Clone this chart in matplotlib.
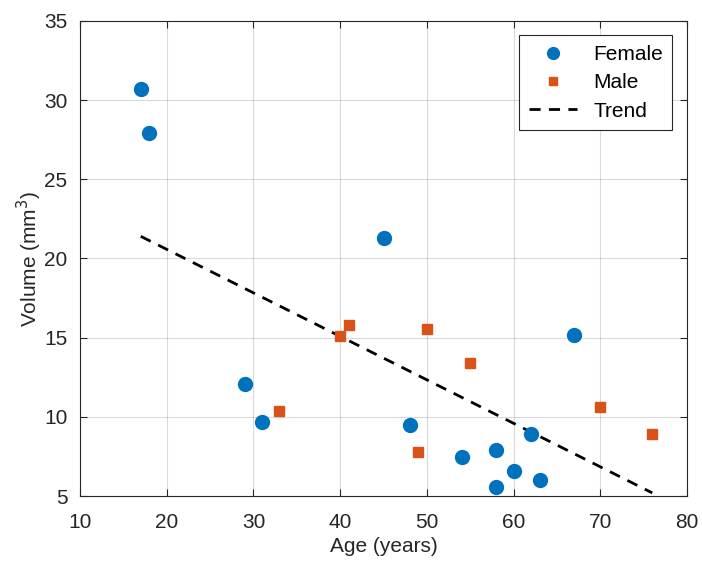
import numpy as np
import matplotlib.pyplot as plt

plt.rcParams['font.family'] = ['Liberation Sans', 'DejaVu Sans']

female_age = [17, 18, 29, 31, 45, 48, 54, 58, 58, 60, 62, 63, 67]
female_vol = [30.7, 27.95, 12.1, 9.7, 21.3, 9.5, 7.45, 7.9, 5.6, 6.6, 8.9, 6.0, 15.2]
male_age = [33, 40, 41, 49, 50, 55, 70, 76]
male_vol = [10.4, 15.1, 15.8, 7.8, 15.55, 13.4, 10.6, 8.9]
trend_age = [17, 76]
trend_vol = [21.4, 5.2]

blue = '#0072BD'
orange = '#D95319'
txt = '#262626'

fig = plt.figure(figsize=(7.02, 5.65), dpi=100)
ax = fig.add_axes([0.114, 0.122, 0.8646, 0.841])

ax.plot(female_age, female_vol, 'o', color=blue, markersize=10, label='Female', zorder=3)
ax.plot(male_age, male_vol, 's', color=orange, markersize=7.5, label='Male', zorder=3)
ax.plot(trend_age, trend_vol, '--', color='black', lw=2, dashes=(4, 3), label='Trend', zorder=2)

ax.set_xlim(10, 80)
ax.set_ylim(5, 35)
ax.set_xticks(np.arange(10, 81, 10))
ax.set_yticks(np.arange(5, 36, 5))
ax.grid(True, color='#000000', alpha=0.15, lw=0.8)
ax.set_axisbelow(True)
ax.tick_params(direction='in', top=True, right=True, labelsize=15, colors=txt, length=5)
ax.tick_params(axis='x', pad=12)
ax.tick_params(axis='y', pad=9)
for s in ax.spines.values():
    s.set_color(txt)
    s.set_linewidth(0.8)

ax.set_xlabel('Age (years)', fontsize=15, color=txt, labelpad=4)
ax.set_ylabel('Volume (mm$^3$)', fontsize=15, color=txt, labelpad=0)

leg = ax.legend(loc='upper right', fontsize=15, fancybox=False, framealpha=1,
                edgecolor=txt, borderaxespad=0.7, handlelength=2.3,
                labelspacing=0.45, borderpad=0.45, markerscale=0.85)
leg.get_frame().set_linewidth(0.8)

fig.savefig('out.png', dpi=100)
